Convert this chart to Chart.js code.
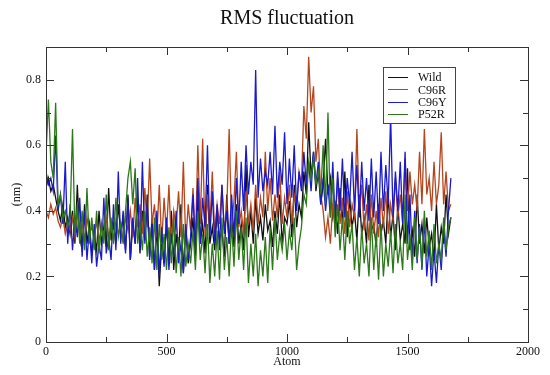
<!DOCTYPE html>
<html>
<head>
<meta charset="utf-8">
<script src="https://cdn.jsdelivr.net/npm/chart.js@4.4.0/dist/chart.umd.min.js"></script>
<style>
  html, body { margin: 0; padding: 0; background: #fff; }
  #wrap { width: 550px; height: 375px; }
</style>
</head>
<body>
<div id="wrap"><canvas id="rmsfChart"></canvas></div>
<script>
// atom index (sampled every 10 atoms)
var atoms = [
  0,10,20,30,40,50,60,70,80,90,
  100,110,120,130,140,150,160,170,180,190,
  200,210,220,230,240,250,260,270,280,290,
  300,310,320,330,340,350,360,370,380,390,
  400,410,420,430,440,450,460,470,480,490,
  500,510,520,530,540,550,560,570,580,590,
  600,610,620,630,640,650,660,670,680,690,
  700,710,720,730,740,750,760,770,780,790,
  800,810,820,830,840,850,860,870,880,890,
  900,910,920,930,940,950,960,970,980,990,
  1000,1010,1020,1030,1040,1050,1060,1070,1080,1090,
  1100,1110,1120,1130,1140,1150,1160,1170,1180,1190,
  1200,1210,1220,1230,1240,1250,1260,1270,1280,1290,
  1300,1310,1320,1330,1340,1350,1360,1370,1380,1390,
  1400,1410,1420,1430,1440,1450,1460,1470,1480,1490,
  1500,1510,1520,1530,1540,1550,1560,1570,1580,1590,
  1600,1610,1620,1630,1640,1650,1660,1670,1680
];

var wild = [
  0.47,0.50,0.46,0.48,0.44,0.40,0.37,0.42,0.35,0.38,
  0.33,0.40,0.30,0.48,0.32,0.28,0.42,0.30,0.36,0.27,
  0.33,0.28,0.40,0.30,0.35,0.29,0.47,0.31,0.36,0.30,
  0.42,0.33,0.38,0.28,0.45,0.25,0.36,0.30,0.44,0.27,
  0.40,0.31,0.45,0.26,0.38,0.22,0.35,0.17,0.30,0.24,
  0.36,0.25,0.40,0.22,0.33,0.26,0.42,0.21,0.35,0.24,
  0.30,0.38,0.26,0.44,0.30,0.36,0.27,0.48,0.30,0.35,
  0.28,0.40,0.31,0.34,0.26,0.45,0.30,0.38,0.29,0.42,
  0.30,0.36,0.28,0.54,0.32,0.40,0.30,0.44,0.33,0.38,
  0.31,0.42,0.34,0.37,0.29,0.40,0.33,0.45,0.30,0.38,
  0.36,0.43,0.32,0.48,0.35,0.42,0.38,0.52,0.45,0.67,
  0.50,0.58,0.46,0.52,0.42,0.48,0.62,0.45,0.50,0.38,
  0.42,0.33,0.47,0.36,0.52,0.32,0.44,0.35,0.40,0.31,
  0.45,0.33,0.38,0.30,0.48,0.34,0.36,0.29,0.42,0.33,
  0.37,0.30,0.45,0.32,0.39,0.28,0.42,0.31,0.36,0.30,
  0.53,0.28,0.34,0.26,0.45,0.30,0.36,0.27,0.38,0.29,
  0.33,0.25,0.42,0.28,0.35,0.30,0.45,0.33,0.38
];

var c96r = [
  0.40,0.38,0.42,0.39,0.41,0.37,0.35,0.38,0.33,0.36,
  0.34,0.38,0.32,0.40,0.33,0.36,0.31,0.38,0.33,0.35,
  0.32,0.37,0.31,0.35,0.33,0.38,0.32,0.36,0.31,0.37,
  0.33,0.36,0.31,0.38,0.34,0.40,0.32,0.44,0.35,0.42,
  0.33,0.47,0.35,0.56,0.36,0.42,0.32,0.48,0.30,0.44,
  0.33,0.48,0.30,0.40,0.35,0.46,0.32,0.55,0.30,0.42,
  0.34,0.47,0.30,0.60,0.36,0.62,0.32,0.45,0.35,0.52,
  0.33,0.42,0.36,0.48,0.34,0.40,0.65,0.36,0.43,0.58,
  0.35,0.40,0.33,0.46,0.36,0.42,0.34,0.48,0.36,0.44,
  0.38,0.58,0.40,0.50,0.37,0.45,0.38,0.52,0.36,0.44,
  0.38,0.48,0.36,0.45,0.42,0.52,0.48,0.72,0.62,0.87,
  0.70,0.78,0.55,0.62,0.45,0.40,0.32,0.38,0.30,0.42,
  0.34,0.50,0.36,0.44,0.33,0.46,0.35,0.42,0.38,0.65,
  0.40,0.48,0.34,0.42,0.31,0.45,0.33,0.40,0.32,0.44,
  0.35,0.46,0.33,0.42,0.37,0.50,0.38,0.45,0.36,0.56,
  0.40,0.52,0.42,0.48,0.40,0.58,0.42,0.65,0.45,0.50,
  0.40,0.55,0.42,0.48,0.64,0.42,0.52,0.40,0.42
];

var c96y = [
  0.52,0.48,0.50,0.46,0.63,0.40,0.45,0.36,0.55,0.30,
  0.42,0.28,0.38,0.32,0.44,0.26,0.40,0.25,0.35,0.24,
  0.36,0.23,0.30,0.25,0.44,0.27,0.32,0.25,0.42,0.28,
  0.52,0.30,0.40,0.27,0.44,0.25,0.38,0.30,0.50,0.28,
  0.55,0.30,0.42,0.25,0.36,0.22,0.40,0.20,0.35,0.23,
  0.38,0.22,0.33,0.26,0.40,0.24,0.30,0.21,0.36,0.25,
  0.32,0.45,0.28,0.50,0.30,0.44,0.35,0.60,0.32,0.46,
  0.30,0.42,0.28,0.48,0.33,0.40,0.30,0.45,0.32,0.50,
  0.36,0.55,0.40,0.60,0.45,0.55,0.48,0.83,0.44,0.56,
  0.46,0.52,0.48,0.58,0.45,0.66,0.44,0.55,0.48,0.64,
  0.42,0.56,0.44,0.60,0.40,0.52,0.46,0.58,0.48,0.55,
  0.46,0.58,0.48,0.55,0.42,0.50,0.40,0.48,0.38,0.55,
  0.36,0.52,0.40,0.56,0.38,0.50,0.42,0.58,0.40,0.54,
  0.38,0.55,0.40,0.50,0.37,0.56,0.38,0.52,0.36,0.58,
  0.40,0.54,0.42,0.69,0.38,0.52,0.40,0.55,0.36,0.58,
  0.30,0.45,0.25,0.40,0.24,0.36,0.22,0.38,0.20,0.30,
  0.17,0.28,0.18,0.30,0.22,0.35,0.26,0.40,0.50
];

var p52r = [
  0.57,0.74,0.55,0.50,0.73,0.42,0.45,0.38,0.40,0.35,
  0.38,0.65,0.33,0.42,0.30,0.40,0.28,0.47,0.30,0.38,
  0.28,0.40,0.27,0.36,0.30,0.45,0.28,0.38,0.30,0.44,
  0.32,0.36,0.30,0.40,0.50,0.55,0.42,0.53,0.30,0.36,
  0.28,0.40,0.26,0.35,0.24,0.38,0.22,0.36,0.25,0.33,
  0.22,0.35,0.24,0.38,0.21,0.32,0.20,0.36,0.23,0.30,
  0.24,0.34,0.22,0.40,0.25,0.33,0.21,0.36,0.18,0.30,
  0.20,0.34,0.19,0.38,0.22,0.32,0.20,0.36,0.23,0.40,
  0.25,0.35,0.22,0.38,0.18,0.30,0.20,0.33,0.17,0.28,
  0.20,0.32,0.18,0.35,0.22,0.38,0.25,0.33,0.28,0.36,
  0.25,0.34,0.28,0.38,0.22,0.30,0.35,0.45,0.42,0.55,
  0.50,0.56,0.48,0.52,0.45,0.60,0.42,0.70,0.38,0.50,
  0.32,0.42,0.28,0.38,0.25,0.40,0.30,0.36,0.22,0.32,
  0.20,0.35,0.24,0.30,0.20,0.38,0.22,0.33,0.19,0.36,
  0.20,0.30,0.23,0.34,0.21,0.36,0.24,0.30,0.22,0.45,
  0.25,0.33,0.22,0.38,0.25,0.35,0.23,0.40,0.26,0.34,
  0.22,0.36,0.24,0.30,0.25,0.38,0.28,0.35,0.38
];

var xTicks = [0, 500, 1000, 1500, 2000];
var xMinor = [250, 750, 1250, 1750];
var yTicks = [0, 0.2, 0.4, 0.6, 0.8];
var yMinor = [0.1, 0.3, 0.5, 0.7];

var serif = "'Liberation Serif', 'DejaVu Serif', serif";

function toPoints(vals) {
  return vals.map(function (v, i) { return { x: atoms[i], y: v }; });
}

// frame with inward ticks on all four sides, plus boxed legend
var framePlugin = {
  id: 'frame',
  afterDraw: function (chart) {
    var ctx = chart.ctx;
    var a = chart.chartArea;
    var xs = chart.scales.x, ys = chart.scales.y;
    ctx.save();
    ctx.strokeStyle = '#333';
    ctx.lineWidth = 1;
    ctx.strokeRect(a.left + 0.5, a.top + 0.5, a.right - a.left, a.bottom - a.top);
    ctx.beginPath();
    function xt(list, len) {
      list.forEach(function (v) {
        var px = Math.round(xs.getPixelForValue(v)) + 0.5;
        ctx.moveTo(px, a.bottom); ctx.lineTo(px, a.bottom - len);
        ctx.moveTo(px, a.top); ctx.lineTo(px, a.top + len);
      });
    }
    function yt(list, len) {
      list.forEach(function (v) {
        var py = Math.round(ys.getPixelForValue(v)) + 0.5;
        ctx.moveTo(a.left, py); ctx.lineTo(a.left + len, py);
        ctx.moveTo(a.right, py); ctx.lineTo(a.right - len, py);
      });
    }
    xt(xTicks, 8); xt(xMinor, 5);
    yt(yTicks, 8); yt(yMinor, 5);
    ctx.stroke();

    // legend box
    var bx = 383, by = 67, bw = 72, bh = 56;
    ctx.fillStyle = '#fff';
    ctx.fillRect(bx, by, bw, bh);
    ctx.strokeStyle = '#444';
    ctx.strokeRect(bx + 0.5, by + 0.5, bw, bh);
    ctx.font = '12px ' + serif;
    ctx.textBaseline = 'middle';
    chart.data.datasets.forEach(function (ds, i) {
      var ry = 77 + i * 12.4;
      ctx.strokeStyle = ds.borderColor;
      ctx.beginPath();
      ctx.moveTo(388, Math.round(ry) + 0.5);
      ctx.lineTo(408, Math.round(ry) + 0.5);
      ctx.stroke();
      ctx.fillStyle = '#111';
      ctx.fillText(ds.label, 418, ry + 1);
    });
    ctx.restore();
  }
};

var ctx = document.getElementById('rmsfChart').getContext('2d');
var rmsfChart = new Chart(ctx, {
  type: 'line',
  data: {
    datasets: [
      { label: 'Wild', data: toPoints(wild), borderColor: '#111111', order: 4 },
      { label: 'C96R', data: toPoints(c96r), borderColor: 'rgb(180,70,30)', order: 3 },
      { label: 'C96Y', data: toPoints(c96y), borderColor: 'rgb(25,25,205)', order: 2 },
      { label: 'P52R', data: toPoints(p52r), borderColor: 'rgb(45,120,25)', order: 1 }
    ]
  },
  options: {
    responsive: true,
    maintainAspectRatio: false,
    animation: false,
    layout: { padding: { left: 0, right: 22, top: 0, bottom: 0 } },
    elements: {
      line: { borderWidth: 1.3, tension: 0 },
      point: { radius: 0 }
    },
    scales: {
      x: {
        type: 'linear',
        min: 0,
        max: 2000,
        grid: { display: false, drawTicks: false },
        border: { display: false },
        afterBuildTicks: function (s) { s.ticks = xTicks.map(function (v) { return { value: v }; }); },
        afterFit: function (s) { s.height = 33; },
        ticks: {
          padding: 3,
          color: '#111',
          maxRotation: 0,
          font: { family: serif, size: 12 },
          callback: function (v) { return String(v); }
        },
        title: {
          display: true,
          text: 'Atom',
          color: '#111',
          font: { family: serif, size: 12 },
          padding: { top: 0, bottom: 6 }
        }
      },
      y: {
        min: 0,
        max: 0.9,
        grid: { display: false, drawTicks: false },
        border: { display: false },
        afterBuildTicks: function (s) { s.ticks = yTicks.map(function (v) { return { value: v }; }); },
        afterFit: function (s) { s.width = 46; },
        ticks: {
          padding: 5,
          color: '#111',
          font: { family: serif, size: 12 },
          callback: function (v) { return String(v); }
        },
        title: {
          display: true,
          text: '(nm)',
          color: '#111',
          font: { family: serif, size: 12 },
          padding: { top: 10, bottom: 0 }
        }
      }
    },
    plugins: {
      legend: { display: false },
      tooltip: { enabled: false },
      title: {
        display: true,
        fullSize: false,
        text: 'RMS fluctuation',
        color: '#111',
        font: { family: serif, size: 20, weight: 'normal' },
        padding: { top: 7, bottom: 16 }
      }
    }
  },
  plugins: [framePlugin]
});
</script>
</body>
</html>
